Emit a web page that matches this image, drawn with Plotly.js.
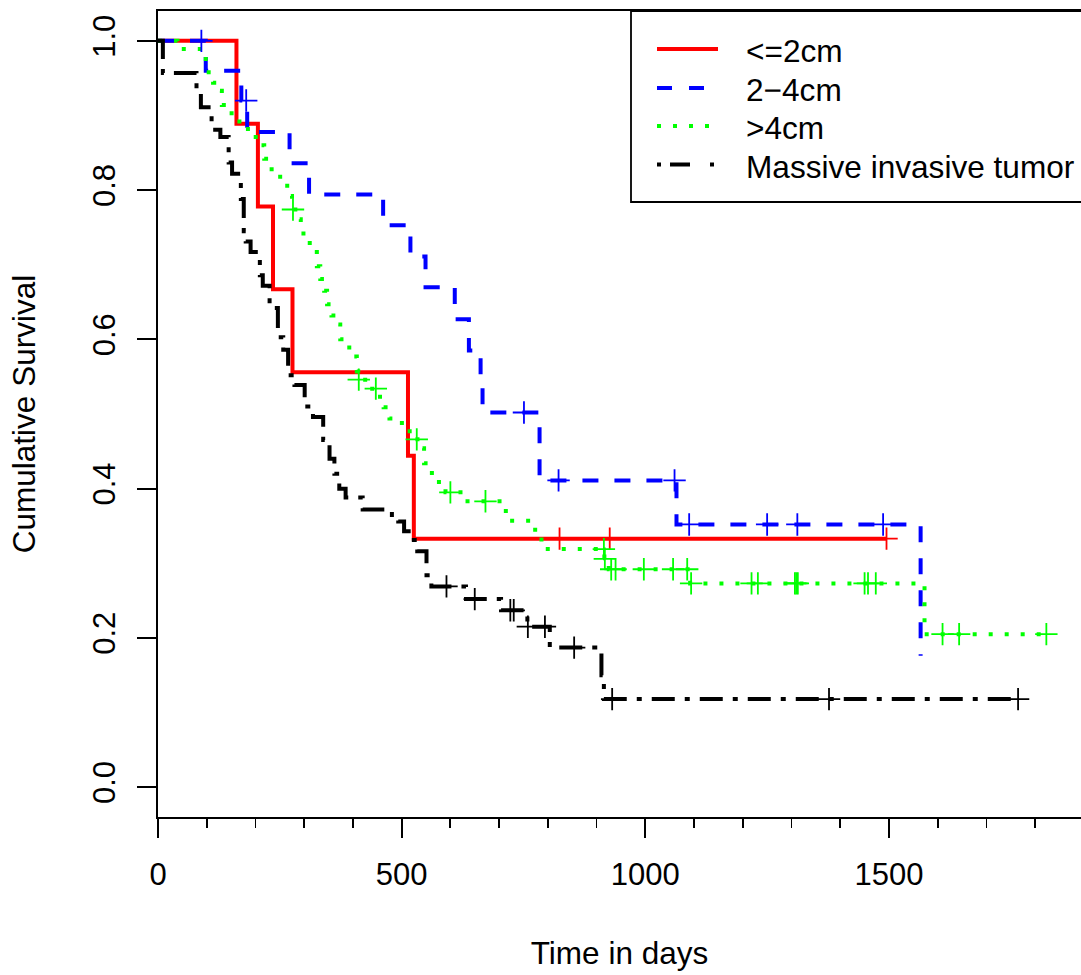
<!DOCTYPE html>
<html>
<head>
<meta charset="utf-8">
<script src="https://cdn.plot.ly/plotly-3.0.1.min.js"></script>
<style>html,body{margin:0;padding:0;background:#fff;overflow:hidden}#plot{width:1081px;height:975px}</style>
</head>
<body>
<div id="plot"></div>
<script>
// ---- data ----
const groupNames = ["<=2cm", "2\u22124cm", ">4cm", "Massive invasive tumor"];

// <=2cm
const redTime = [0, 161, 205, 236, 276, 513, 525, 1495];
const redSurv = [1.0, 0.889, 0.778, 0.667, 0.556, 0.444, 0.333, 0.333];
const redCensTime = [824, 927, 1495];
const redCensSurv = [0.333, 0.333, 0.333];

// 2-4cm
const blueTime = [0, 98, 171, 183, 270, 310, 462, 518, 549, 609, 638, 662, 666, 783, 1064, 1565];
const blueSurv = [1.0, 0.960, 0.920, 0.878, 0.836, 0.794, 0.753, 0.711, 0.670, 0.627, 0.585, 0.543, 0.502, 0.411, 0.352, 0.176];
const blueCensTime = [89, 181, 751, 822, 1060, 1090, 1250, 1312, 1488];
const blueCensSurv = [1.0, 0.920, 0.502, 0.411, 0.411, 0.352, 0.352, 0.352, 0.352];

// >4cm
const greenTime = [0, 40, 98, 104, 113, 124, 131, 145, 162, 179, 195, 211, 218, 226, 243, 258, 270, 275, 288, 293, 304, 318, 326, 333, 341, 347, 356, 368, 374, 386, 401, 408, 411, 432, 450, 463, 475, 490, 510, 525, 540, 546, 556, 570, 590, 625, 705, 720, 768, 780, 795, 916, 925, 1092, 1573, 1823];
const greenSurv = [1.0, 0.989, 0.972, 0.958, 0.944, 0.933, 0.914, 0.903, 0.892, 0.882, 0.871, 0.860, 0.842, 0.828, 0.818, 0.806, 0.792, 0.774, 0.761, 0.742, 0.729, 0.717, 0.698, 0.681, 0.665, 0.647, 0.632, 0.620, 0.600, 0.589, 0.577, 0.557, 0.546, 0.534, 0.523, 0.509, 0.494, 0.488, 0.477, 0.466, 0.454, 0.434, 0.421, 0.409, 0.395, 0.383, 0.370, 0.357, 0.345, 0.332, 0.319, 0.306, 0.292, 0.273, 0.205, 0.205];
const greenCensTime = [277, 412, 447, 531, 600, 672, 915, 917, 930, 939, 997, 1057, 1086, 1094, 1218, 1231, 1307, 1310, 1313, 1450, 1457, 1473, 1610, 1644, 1823];
const greenCensSurv = [0.774, 0.546, 0.534, 0.466, 0.395, 0.383, 0.319, 0.306, 0.292, 0.292, 0.292, 0.292, 0.292, 0.273, 0.273, 0.273, 0.273, 0.273, 0.273, 0.273, 0.273, 0.273, 0.205, 0.205, 0.205];

// Massive invasive tumor
const blackTime = [0, 10, 79, 88, 110, 128, 145, 152, 170, 176, 180, 190, 209, 215, 229, 246, 257, 267, 280, 301, 318, 339, 352, 362, 372, 385, 420, 480, 493, 505, 525, 532, 551, 561, 632, 704, 758, 804, 910, 915, 1765];
const blackSurv = [1.0, 0.957, 0.935, 0.911, 0.881, 0.871, 0.837, 0.822, 0.788, 0.745, 0.731, 0.717, 0.686, 0.672, 0.642, 0.603, 0.586, 0.552, 0.539, 0.510, 0.496, 0.465, 0.440, 0.420, 0.400, 0.388, 0.372, 0.362, 0.356, 0.343, 0.331, 0.316, 0.284, 0.269, 0.252, 0.237, 0.215, 0.187, 0.150, 0.118, 0.118];
const blackCensTime = [592, 650, 723, 730, 759, 794, 854, 932, 1377, 1765];
const blackCensSurv = [0.269, 0.252, 0.237, 0.237, 0.215, 0.215, 0.187, 0.118, 0.118, 0.118];

const xTickVals = [0, 500, 1000, 1500];
const yTickVals = [0, 0.2, 0.4, 0.6, 0.8, 1.0];
const yTickText = ["0.0", "0.2", "0.4", "0.6", "0.8", "1.0"];

// ---- styling / layout ----
const W = 1081, H = 975, ML = 158, MT = 11, MB = 158, MR = 0;
const PW = W - ML - MR, PH = H - MT - MB;
const pxX = p => (p - ML) / PW;
const pxY = p => (H - MB - p) / PH;
const FONT = "Liberation Sans, Arial, Helvetica, sans-serif";
const colors = ["#FF0000", "#0000FF", "#00FF00", "#000000"];
const dashes = ["solid", "16px,16px", "4px,12px", "23px,10px,5px,10px"];
const legendDashes = ["solid", "15px,17px", "4px,12px", "4px,9px,20px,20px"];
const LW = 4;

const series = [
  [redTime, redSurv, redCensTime, redCensSurv],
  [blueTime, blueSurv, blueCensTime, blueCensSurv],
  [greenTime, greenSurv, greenCensTime, greenCensSurv],
  [blackTime, blackSurv, blackCensTime, blackCensSurv]
];

const traces = [];
series.forEach((s, i) => {
  traces.push({
    x: s[0], y: s[1], type: "scatter", mode: "lines", name: groupNames[i],
    line: {shape: "hv", color: colors[i], width: LW, dash: dashes[i]},
    showlegend: false, hoverinfo: "skip"
  });
});
series.forEach((s, i) => {
  traces.push({
    x: s[2], y: s[3], type: "scatter", mode: "markers", name: groupNames[i] + " censored",
    marker: {symbol: "cross-thin", size: 16, color: colors[i], line: {color: colors[i], width: 1.8}},
    showlegend: false, hoverinfo: "skip"
  });
});

const shapes = [{
  type: "rect", xref: "paper", yref: "paper",
  x0: pxX(631), x1: pxX(1095), y0: pxY(202), y1: pxY(11),
  line: {color: "#000", width: 1.8}, fillcolor: "rgba(0,0,0,0)"
}];
const rowY = [49, 88, 126, 164.5];
const annotations = [];
groupNames.forEach((n, i) => {
  shapes.push({
    type: "line", xref: "paper", yref: "paper",
    x0: pxX(657), x1: pxX(718), y0: pxY(rowY[i]), y1: pxY(rowY[i]),
    line: {color: colors[i], width: LW, dash: legendDashes[i]}
  });
  annotations.push({
    xref: "paper", yref: "paper", x: pxX(744), y: pxY(rowY[i] + 2),
    xanchor: "left", yanchor: "middle", showarrow: false,
    text: n.replace("<", "&lt;").replace(">", "&gt;"),
    font: {family: FONT, size: 31.6, color: "#000"}
  });
});

const layout = {
  width: W, height: H,
  margin: {l: ML, r: MR, t: MT, b: MB, pad: 0},
  paper_bgcolor: "#fff", plot_bgcolor: "#fff",
  font: {family: FONT, size: 31, color: "#000"},
  showlegend: false,
  xaxis: {
    range: [0, PW / 0.4873], tickmode: "array", tickvals: xTickVals,
    ticks: "outside", ticklen: 19, tickwidth: 1.8, tickcolor: "#000",
    showline: true, linecolor: "#000", linewidth: 1.8, mirror: true,
    showgrid: false, zeroline: false, automargin: false,
    tickfont: {family: FONT, size: 31, color: "#000"},
    ticklabelstandoff: 10,
    minor: {dtick: 100, tick0: 0, ticks: "outside", ticklen: 9, tickwidth: 1.8, tickcolor: "#000", showgrid: false},
    title: {text: "Time in days", font: {family: FONT, size: 31.5, color: "#000"}, standoff: 51}
  },
  yaxis: {
    range: [-0.04, 1.04], tickmode: "array", tickvals: yTickVals, ticktext: yTickText,
    ticks: "outside", ticklen: 19, tickwidth: 1.8, tickcolor: "#000", tickangle: -90,
    showline: true, linecolor: "#000", linewidth: 1.8, mirror: false,
    showgrid: false, zeroline: false, automargin: false,
    tickfont: {family: FONT, size: 31, color: "#000"},
    ticklabelstandoff: 10,
    title: {text: "Cumulative Survival", font: {family: FONT, size: 31.5, color: "#000"}, standoff: 42}
  },
  shapes: shapes,
  annotations: annotations
};

Plotly.newPlot("plot", traces, layout, {staticPlot: true, displayModeBar: false});
</script>
</body>
</html>
